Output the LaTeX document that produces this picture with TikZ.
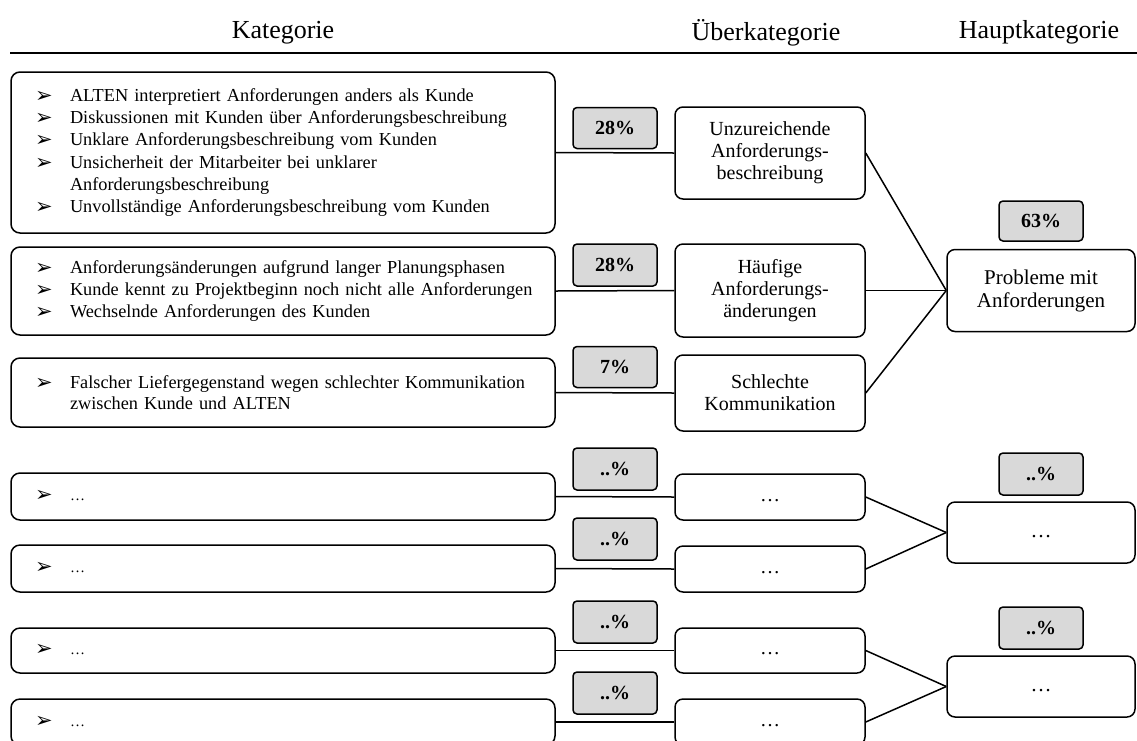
\documentclass[tikz,border=0pt]{standalone}
\usepackage{fontspec}
\setmainfont{Liberation Serif}
\newfontfamily\dingfont{DejaVu Sans}
\definecolor{pctfill}{HTML}{D9D9D9}
% list lines of the categories: bullet with hanging indent, or continuation
\newcommand\bul[1]{\makebox[35pt][l]{\raisebox{-1pt}{\dingfont\fontsize{21}{21}\selectfont ➢}}\mbox{#1}}
\newcommand\cont[1]{\hspace*{35pt}\mbox{#1}}

\begin{document}
\begin{tikzpicture}[x=1pt,y=-1pt,
  hdr/.style={anchor=base, inner sep=0pt, font=\fontsize{26}{28}\selectfont},
  catbox/.style={draw, line width=1.5pt, rounded corners=9pt, inner xsep=24pt, inner ysep=0pt,
    text width=496pt, align=left, font=\fontsize{18.3}{21.6}\selectfont},
  midbox/.style={draw, line width=1.5pt, rounded corners=8pt, inner sep=0pt,
    minimum width=190pt, align=center, font=\fontsize{20}{22}\selectfont},
  mainbox/.style={draw, line width=1.5pt, rounded corners=8pt, inner sep=0pt,
    minimum width=188pt, align=center, font=\fontsize{21}{23}\selectfont},
  pct/.style={draw, line width=1.5pt, rounded corners=4pt, fill=pctfill, inner sep=0pt,
    minimum width=84pt, font=\bfseries\fontsize{20}{22}\selectfont},
  conn/.style={line width=1.5pt}]

\useasboundingbox (0,0) rectangle (1137,740);
\clip (0,0) rectangle (1137,740);

% column headings
\node[hdr] (hkat) at (283,38) {Kategorie};
\node[hdr] (hueb) at (766,40) {Überkategorie};
\node[hdr] (hhaupt) at (1039,38) {Hauptkategorie};
\coordinate (rulel) at (10,53);
\coordinate (ruler) at (1137,53);
\draw[line width=2.2pt] (rulel) -- (ruler);

% categories
\node[catbox, minimum height=161pt, font=\fontsize{18.3}{22.2}\selectfont] (l1) at (283,152.5) {%
  \bul{ALTEN interpretiert Anforderungen anders als Kunde}\\
  \bul{Diskussionen mit Kunden über Anforderungsbeschreibung}\\
  \bul{Unklare Anforderungsbeschreibung vom Kunden}\\
  \bul{Unsicherheit der Mitarbeiter bei unklarer}\\
  \cont{Anforderungsbeschreibung}\\
  \bul{Unvollständige Anforderungsbeschreibung vom Kunden}};
\node[catbox, minimum height=88pt] (l2) at (283,291) {%
  \bul{Anforderungsänderungen aufgrund langer Planungsphasen}\\
  \bul{Kunde kennt zu Projektbeginn noch nicht alle Anforderungen}\\
  \bul{Wechselnde Anforderungen des Kunden}};
\node[catbox, minimum height=69pt] (l3) at (283,392.5) {%
  \bul{Falscher Liefergegenstand wegen schlechter Kommunikation}\\
  \cont{zwischen Kunde und ALTEN}};
\node[catbox, minimum height=47pt] (l4) at (283,496.5) {\bul{{\fontsize{15}{18}\selectfont …}}\strut};
\node[catbox, minimum height=47pt] (l5) at (283,568.5) {\bul{{\fontsize{15}{18}\selectfont …}}\strut};
\node[catbox, minimum height=45pt] (l6) at (283,650.5) {\bul{{\fontsize{15}{18}\selectfont …}}\strut};
\node[catbox, minimum height=46pt] (l7) at (283,722) {\bul{{\fontsize{15}{18}\selectfont …}}\strut};

% shares of the categories
\node[pct, minimum height=41pt] (p1) at (615,128) {28\%};
\node[pct, minimum height=42pt] (p2) at (615,265) {28\%};
\node[pct, minimum height=41pt] (p3) at (615,367) {7\%};
\node[pct, minimum height=42pt] (p4) at (615,469) {..\%};
\node[pct, minimum height=42pt] (p5) at (615,539) {..\%};
\node[pct, minimum height=42pt] (p6) at (615,622) {..\%};
\node[pct, minimum height=42pt] (p7) at (615,693) {..\%};

% super categories
\node[midbox, minimum height=92pt] (m1) at (770,153) {Unzureichende\\Anforderungs-\\beschreibung};
\node[midbox, minimum height=93pt] (m2) at (770,290.5) {Häufige\\Anforderungs-\\änderungen};
\node[midbox, minimum height=76pt] (m3) at (770,393) {Schlechte\\Kommunikation};
\node[midbox, minimum height=46pt] (m4) at (770,497) {\dots\strut};
\node[midbox, minimum height=46pt] (m5) at (770,569) {\dots\strut};
\node[midbox, minimum height=45pt] (m6) at (770,650.5) {\dots\strut};
\node[midbox, minimum height=46pt] (m7) at (770,722) {\dots\strut};

% main categories and their shares
\node[pct, minimum height=40pt] (q1) at (1041,221) {63\%};
\node[pct, minimum height=42pt] (q2) at (1041,474) {..\%};
\node[pct, minimum height=42pt] (q3) at (1041,628) {..\%};
\node[mainbox, minimum height=82pt] (h1) at (1041,290.5) {Probleme mit\\Anforderungen};
\node[mainbox, minimum height=61pt] (h2) at (1041,532.5) {\dots\strut};
\node[mainbox, minimum height=61pt] (h3) at (1041,686.5) {\dots\strut};

% connectors
\foreach \i in {1,...,7} { \draw[conn] (l\i.east) -- (m\i.west); }
\draw[conn] (m1.east) -- (h1.west);
\draw[conn] (m2.east) -- (h1.west);
\draw[conn] (m3.east) -- (h1.west);
\draw[conn] (m4.east) -- (h2.west);
\draw[conn] (m5.east) -- (h2.west);
\draw[conn] (m6.east) -- (h3.west);
\draw[conn] (m7.east) -- (h3.west);
\end{tikzpicture}
\end{document}
